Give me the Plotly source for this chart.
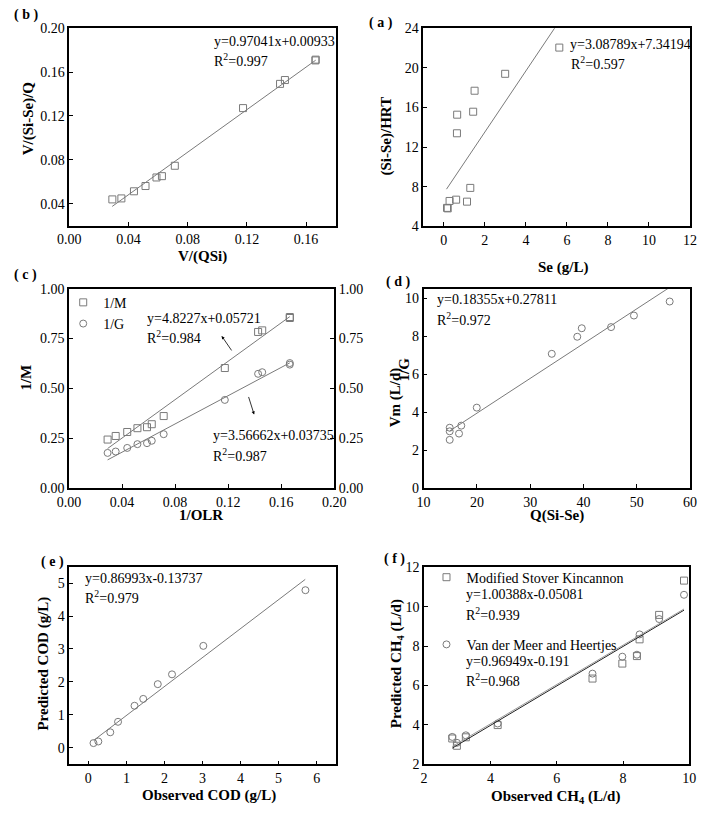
import plotly.graph_objects as go

W, H = 710, 815
FONT = "Liberation Serif, Times New Roman, serif"
GRAY = "#7a7a7a"

# ---------------- data ----------------
# (b) V/(QSi) vs V/(Si-Se)/Q
b_x = [0.0291, 0.0352, 0.0437, 0.0515, 0.0589, 0.0626, 0.0713, 0.1174, 0.1424, 0.1457, 0.1663, 0.1665]
b_y = [0.0439, 0.0448, 0.0513, 0.0561, 0.0639, 0.0651, 0.0746, 0.1272, 0.1493, 0.1528, 0.1707, 0.1714]
b_fit_x = [0.029, 0.1665]
b_fit_y = [0.0375, 0.1709]

# (a) Se vs (Si-Se)/HRT
a_x = [0.155, 0.19, 0.28, 0.60, 1.13, 1.29, 0.64, 0.65, 1.43, 1.50, 2.99, 5.63]
a_y = [5.85, 5.80, 6.55, 6.68, 6.48, 7.87, 13.39, 15.27, 15.57, 17.69, 19.40, 22.05]
a_fit_x = [0.13, 5.45]
a_fit_y = [7.74, 24.17]

# (c) 1/OLR vs 1/M and 1/G
c_x = [0.0291, 0.0352, 0.0439, 0.0516, 0.0588, 0.0624, 0.0714, 0.1175, 0.1426, 0.1457, 0.1665, 0.1665]
c_m = [0.243, 0.261, 0.281, 0.300, 0.305, 0.320, 0.361, 0.602, 0.783, 0.791, 0.853, 0.858]
c_g = [0.176, 0.183, 0.201, 0.220, 0.225, 0.237, 0.270, 0.442, 0.573, 0.581, 0.627, 0.619]
c_fit_x = [0.0291, 0.1665]
c_fit_m = [0.198, 0.860]
c_fit_g = [0.141, 0.628]

# (d) Q(Si-Se) vs Vm
d_x = [14.9, 14.9, 14.9, 16.65, 17.07, 19.98, 34.06, 38.84, 39.69, 45.19, 49.48, 56.19]
d_y = [3.18, 2.99, 2.54, 2.87, 3.29, 4.24, 7.08, 7.98, 8.43, 8.49, 9.10, 9.84]
d_fit_x = [14.9, 56.2]
d_fit_y = [3.01, 10.59]

# (e) observed vs predicted COD
e_x = [0.136, 0.263, 0.577, 0.781, 1.214, 1.443, 1.825, 2.199, 3.022, 5.705]
e_y = [0.149, 0.198, 0.476, 0.794, 1.280, 1.488, 1.935, 2.232, 3.095, 4.782]
e_fit_x = [0.14, 5.70]
e_fit_y = [0.23, 5.11]

# (f) observed vs predicted CH4
f_x = [2.85, 2.99, 3.26, 4.22, 7.08, 7.98, 8.42, 8.50, 9.09, 9.84]
f_msk = [3.31, 2.94, 3.37, 3.99, 6.35, 7.11, 7.49, 8.34, 9.58, 11.32]
f_vdm = [3.39, 3.09, 3.47, 4.07, 6.60, 7.46, 7.56, 8.59, 9.37, 10.60]
f_fit_x = [2.85, 9.84]
f_fit_msk = [2.82, 9.82]
f_fit_vdm = [2.90, 9.88]


def px(x):
    return x / W


def py(y):
    return 1 - y / H


sq = dict(symbol="square-open", size=7, color=GRAY, line=dict(width=1, color=GRAY))
ci = dict(symbol="circle-open", size=7, color=GRAY, line=dict(width=1, color=GRAY))
ln = dict(color=GRAY, width=1)

fig = go.Figure()


def pts(x, y, xa, ya, marker, name=None, legend=None, group=None):
    fig.add_trace(go.Scatter(x=x, y=y, mode="markers", marker=marker, xaxis=xa, yaxis=ya,
                             name=name, showlegend=name is not None,
                             legend=legend, legendgroup=group))


def fit(x, y, xa, ya, line=ln):
    fig.add_trace(go.Scatter(x=x, y=y, mode="lines", line=line, xaxis=xa, yaxis=ya,
                             showlegend=False, hoverinfo="skip"))


pts(b_x, b_y, "x", "y", sq)
fit(b_fit_x, b_fit_y, "x", "y")
pts(a_x, a_y, "x2", "y2", sq)
fit(a_fit_x, a_fit_y, "x2", "y2")
pts(c_x, c_m, "x3", "y3", sq, name="1/M", legend="legend", group="m")
pts(c_x, c_g, "x3", "y7", ci, name="1/G", legend="legend", group="g")
fit(c_fit_x, c_fit_m, "x3", "y3")
fit(c_fit_x, c_fit_g, "x3", "y7")
pts(d_x, d_y, "x4", "y4", ci)
fit(d_fit_x, d_fit_y, "x4", "y4")
pts(e_x, e_y, "x5", "y5", ci)
fit(e_fit_x, e_fit_y, "x5", "y5")
pts(f_x, f_msk, "x6", "y6", sq, name="Modified Stover Kincannon", legend="legend2", group="msk")
pts(f_x, f_vdm, "x6", "y6", ci, name="Van der Meer and Heertjes", legend="legend2", group="vdm")
fit(f_fit_x, f_fit_msk, "x6", "y6", dict(color="#222222", width=1))
fit(f_fit_x, f_fit_vdm, "x6", "y6", dict(color="#9a9a9a", width=1))


def axis(d0, d1, rng, dtick, anchor, fmt=None, horiz=True, **kw):
    dom = [px(d0), px(d1)] if horiz else [py(d1), py(d0)]
    a = dict(domain=dom, range=rng, dtick=dtick, tick0=0, anchor=anchor,
             showline=True, linecolor="black", linewidth=1.5, mirror=True,
             ticks="inside", ticklen=4, tickwidth=1, tickcolor="black",
             showgrid=False, zeroline=False, fixedrange=True,
             tickfont=dict(family=FONT, size=14, color="black"))
    if fmt:
        a["tickformat"] = fmt
    a.update(kw)
    return a


layout = dict(
    width=W, height=H, autosize=False,
    margin=dict(l=0, r=0, t=0, b=0),
    paper_bgcolor="white", plot_bgcolor="white",
    font=dict(family=FONT, size=14, color="black"),
    xaxis=axis(59.3, 335, [0, 0.18], 0.04, "y", ".2f"),
    yaxis=axis(21.7, 222.7, [0.02, 0.20], 0.04, "x", ".2f", horiz=False),
    xaxis2=axis(425.7, 701.7, [-1, 12], 2, "y2"),
    yaxis2=axis(21.7, 223.3, [4, 24], 4, "x2", horiz=False),
    xaxis3=axis(59, 333.5, [0, 0.2], 0.04, "y3", ".2f"),
    yaxis3=axis(287, 490, [0, 1], 0.25, "x3", ".2f", horiz=False),
    yaxis7=axis(287, 490, [0, 1], 0.25, "x3", ".2f", horiz=False,
                overlaying="y3", side="right", mirror=False),
    xaxis4=axis(426, 701.7, [10, 60], 10, "y4"),
    yaxis4=axis(287.3, 490, [0, 10.5], 2, "x4", horiz=False),
    xaxis5=axis(59.3, 335, [-0.5, 6.5], 1, "y5"),
    yaxis5=axis(570, 771.7, [-0.5, 5.5], 1, "x5", horiz=False),
    xaxis6=axis(426.5, 701, [2, 10], 2, "y6"),
    yaxis6=axis(570.7, 771.5, [2, 12], 2, "x6", horiz=False),
    legend=dict(x=px(53), y=py(285), xanchor="left", yanchor="top",
                bgcolor="rgba(0,0,0,0)", font=dict(family=FONT, size=14, color="black"),
                tracegroupgap=0, itemwidth=30),
    legend2=dict(x=px(429), y=py(565), xanchor="left", yanchor="top",
                 bgcolor="rgba(0,0,0,0)", font=dict(family=FONT, size=14, color="black"),
                 tracegroupgap=46, itemwidth=30),
)

ann = []


def txt(x, y, s, xanchor="left", size=14, bold=False, angle=0):
    if bold:
        s = "<b>" + s + "</b>"
    ann.append(dict(x=px(x), y=py(y), xref="paper", yref="paper", text=s, showarrow=False,
                    xanchor=xanchor, yanchor="middle", textangle=angle,
                    font=dict(family=FONT, size=size, color="black")))


# panel labels
txt(14, 8, "( b )", "center", bold=True)
txt(382, 16, "( a )", "center", bold=True)
txt(14, 273, "( c )", "center", bold=True)
txt(400, 280, "( d )", "center", bold=True)
txt(42, 565, "( e )", "center", bold=True)
txt(396, 562, "( f )", "center", bold=True)

# equations
txt(207, 35, "y=0.97041x+0.00933")
txt(207, 54, "R<sup>2</sup>=0.997")
txt(575, 38, "y=3.08789x+7.34194")
txt(576, 57, "R<sup>2</sup>=0.597")
txt(138, 317, "y=4.8227x+0.05721")
txt(138, 336, "R<sup>2</sup>=0.984")
txt(206, 437, "y=3.56662x+0.03735")
txt(206, 456, "R<sup>2</sup>=0.987")
txt(438, 298, "y=0.18355x+0.27811")
txt(438, 318, "R<sup>2</sup>=0.972")
txt(74, 582, "y=0.86993x-0.13737")
txt(74, 601, "R<sup>2</sup>=0.979")
txt(468, 599, "y=1.00388x-0.05081")
txt(468, 618, "R<sup>2</sup>=0.939")
txt(468, 667, "y=0.96949x-0.191")
txt(468, 686, "R<sup>2</sup>=0.968")

# axis titles
txt(197, 254, "V/(QSi)", "center", 15, True)
txt(17, 113, "V/(Si-Se)/Q", "center", 15, True, -90)
txt(570, 265, "Se (g/L)", "center", 15, True)
txt(388, 131, "(Si-Se)/HRT", "center", 15, True, -90)
txt(196, 518, "1/OLR", "center", 15, True)
txt(15, 377, "1/M", "center", 15, True, -90)
txt(406, 369, "1/G", "center", 15, True, -90)
txt(564, 518, "Q(Si-Se)", "center", 15, True)
txt(397, 398, "Vm (L/d)", "center", 15, True, -90)
txt(204, 803, "Observed COD (g/L)", "center", 15, True)
txt(33, 669, "Predicted COD (g/L)", "center", 15, True, -90)
txt(563, 805, "Observed CH<sub>4</sub> (L/d)", "center", 15, True)
txt(398, 669, "Predicted CH<sub>4</sub> (L/d)", "center", 15, True, -90)

# arrows in (c)
ann.append(dict(x=0.1151, y=0.763, xref="x3", yref="y3", ax=11, ay=16, text="",
                showarrow=True, arrowhead=2, arrowsize=0.8, arrowwidth=0.8, arrowcolor="black"))
ann.append(dict(x=0.1396, y=0.369, xref="x3", yref="y3", ax=-6, ay=-19, text="",
                showarrow=True, arrowhead=2, arrowsize=0.8, arrowwidth=0.8, arrowcolor="black"))

layout["annotations"] = ann
fig.update_layout(**layout)
fig.write_html("out.html", config={"displayModeBar": False},
               post_script="document.body.style.margin='0px';document.body.style.padding='0px';")
